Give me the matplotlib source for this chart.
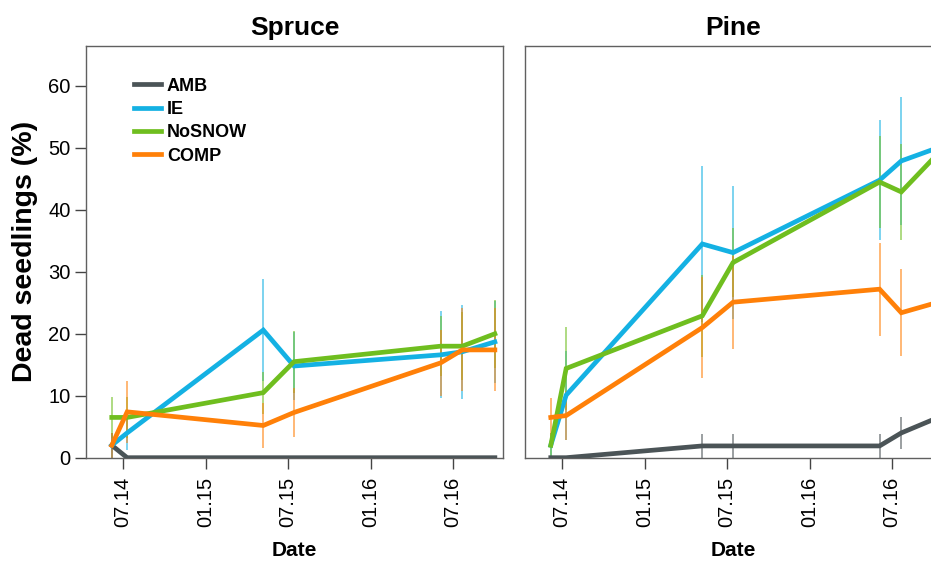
import datetime as dt

import matplotlib
matplotlib.use("Agg")
import matplotlib.pyplot as plt
import matplotlib.dates as mdates

plt.rcParams["font.family"] = ["Liberation Sans", "DejaVu Sans"]

# sampling dates (same for both species)
dates = [dt.date(2014, 6, 7), dt.date(2014, 7, 11), dt.date(2015, 5, 8),
         dt.date(2015, 7, 15), dt.date(2016, 6, 3), dt.date(2016, 7, 21),
         dt.date(2016, 10, 1)]

groups = ["AMB", "IE", "NoSNOW", "COMP"]

# Spruce: dead seedlings (%) and half-width of error bars
spruce_amb = [2.0, 0, 0, 0, 0, 0, 0]
spruce_ie = [2.0, 4.0, 20.6, 14.8, 16.6, 17.1, 18.7]
spruce_nosnow = [6.5, 6.5, 10.5, 15.5, 18.0, 18.0, 20.0]
spruce_comp = [2.0, 7.4, 5.2, 7.3, 15.3, 17.4, 17.4]
spruce_amb_err = [2.0, 0, 0, 0, 0, 0, 0]
spruce_ie_err = [2.0, 2.7, 8.3, 5.5, 7.0, 7.6, 6.6]
spruce_nosnow_err = [3.3, 3.3, 3.4, 5.0, 4.8, 5.5, 5.5]
spruce_comp_err = [2.0, 5.0, 3.7, 4.0, 5.3, 6.7, 6.7]

# Pine
pine_amb = [0, 0, 1.9, 1.9, 1.9, 4.0, 6.2]
pine_ie = [2.0, 10.1, 34.5, 33.1, 44.8, 47.9, 49.8]
pine_nosnow = [2.0, 14.4, 22.9, 31.5, 44.5, 42.9, 48.4]
pine_comp = [6.5, 6.8, 21.0, 25.1, 27.2, 23.4, 24.9]
pine_amb_err = [0, 0, 1.9, 1.9, 1.9, 2.6, 2.6]
pine_ie_err = [2.0, 7.2, 12.6, 10.7, 9.7, 10.4, 10.0]
pine_nosnow_err = [2.0, 6.7, 6.6, 5.6, 7.4, 7.8, 7.5]
pine_comp_err = [3.2, 3.9, 8.2, 7.5, 7.5, 7.0, 7.0]

COLORS = {"AMB": "#4b5457", "IE": "#14b1e3", "NoSNOW": "#6fbe1f", "COMP": "#ff8008"}
SPINE = "#606060"

panels = [
    ("Spruce", [spruce_amb, spruce_ie, spruce_nosnow, spruce_comp],
     [spruce_amb_err, spruce_ie_err, spruce_nosnow_err, spruce_comp_err]),
    ("Pine", [pine_amb, pine_ie, pine_nosnow, pine_comp],
     [pine_amb_err, pine_ie_err, pine_nosnow_err, pine_comp_err]),
]

fig = plt.figure(figsize=(9.31, 5.61), dpi=100)
W, H = 931, 561
ax_w, ax_h = 417, 412
lefts = [86, 525]

for i, (name, series, errs) in enumerate(panels):
    ax = fig.add_axes([lefts[i] / W, (H - 457.7) / H, ax_w / W, ax_h / H])
    for g, vals, err in zip(groups, series, errs):
        ax.errorbar(dates, vals, yerr=err, fmt="none", ecolor=COLORS[g],
                    elinewidth=1.2, alpha=0.65, capsize=0, zorder=2)
    for g, vals in zip(groups, series):
        ax.plot(dates, vals, color=COLORS[g], lw=3.4, label=g,
                solid_joinstyle="miter", zorder=3)

    ax.set_xlim(dt.date(2014, 4, 11), dt.date(2016, 10, 19))
    ax.set_ylim(0, 66.5)
    ax.xaxis.set_major_locator(mdates.MonthLocator(bymonth=[1, 7]))
    ax.xaxis.set_major_formatter(mdates.DateFormatter("%m.%y"))
    ax.tick_params(axis="x", rotation=90, labelsize=14.5, length=8,
                   width=1, color="#444444", pad=6)
    ax.set_title(name, fontsize=19, fontweight="bold", pad=8)
    ax.set_xlabel("Date", fontsize=15, fontweight="bold")
    ax.xaxis.set_label_coords(0.5, -0.203)
    for s in ax.spines.values():
        s.set_color(SPINE)
        s.set_linewidth(1.0)

    if i == 0:
        ax.set_yticks(range(0, 61, 10))
        ax.tick_params(axis="y", labelsize=14.5, length=8, width=1,
                       color="#444444", pad=3)
        ax.set_ylabel("Dead seedlings (%)", fontsize=20.5, fontweight="bold")
        ax.yaxis.set_label_coords(-0.115, 0.5)
        ax.legend(loc="upper left", bbox_to_anchor=(0.077, 0.962),
                  frameon=False, handlelength=1.5, handletextpad=0.3,
                  labelspacing=0.35, prop={"weight": "bold", "size": 13})
    else:
        ax.set_yticks([])

fig.savefig("out.png", dpi=100, facecolor="white")
